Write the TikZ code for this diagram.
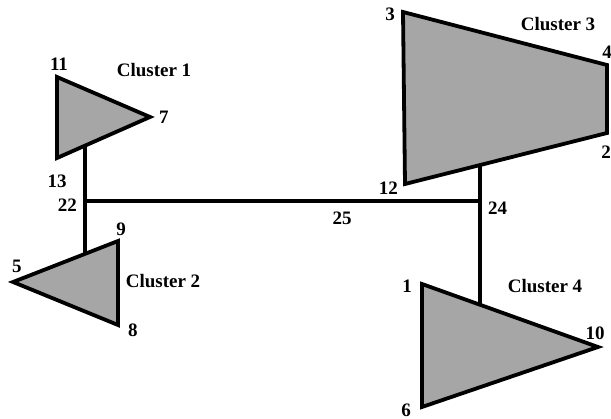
\documentclass[tikz,border=0pt]{standalone}
\usepackage{fontspec}
\setmainfont{Liberation Serif}
\usepackage{tikz}
\usetikzlibrary{positioning, calc}

\begin{document}
\begin{tikzpicture}[x=1pt, y=-1pt,
        cluster/.style={draw=black, fill=black!35, line width=3.8pt, line join=miter},
        link/.style={draw=black, line width=3.8pt},
        lbl/.style={inner sep=0pt, font=\fontsize{19}{21}\selectfont\bfseries},
    ]
    \useasboundingbox (0,0) rectangle (611,419);

    % cluster vertices
    \coordinate (c11) at (57,77);
    \coordinate (c7) at (150,117);
    \coordinate (c13) at (57,158);
    \coordinate (c5) at (13,282);
    \coordinate (c9) at (118,241);
    \coordinate (c8) at (118,325);
    \coordinate (c3) at (403,12);
    \coordinate (c4) at (607,65);
    \coordinate (c2) at (607,133);
    \coordinate (c12) at (405,184);
    \coordinate (c1) at (422,284);
    \coordinate (c10) at (598,347);
    \coordinate (c6) at (422,407);

    % junctions
    \coordinate (j22) at (85,201);
    \coordinate (j25) at (340,201);
    \coordinate (j24) at (480,201);
    \coordinate (t1) at ($(c13)!0.301!(c7)$);
    \coordinate (t2) at ($(c5)!0.686!(c9)$);
    \coordinate (t3) at ($(c12)!0.371!(c2)$);
    \coordinate (t4) at ($(c1)!0.33!(c10)$);

    \draw [cluster] (c11) -- (c7) -- (c13) -- cycle;
    \draw [cluster] (c5) -- (c9) -- (c8) -- cycle;
    \draw [cluster] (c3) -- (c4) -- (c2) -- (c12) -- cycle;
    \draw [cluster] (c1) -- (c10) -- (c6) -- cycle;

    \draw [link] (t1) -- (j22) -- (t2);
    \draw [link] (j22) -- (j25) -- (j24);
    \draw [link] (t3) -- (j24) -- (t4);

    % vertex labels
    \node [lbl, above=6pt of c11, xshift=2pt] (l11) {11};
    \node [lbl, right=9pt of c7] (l7) {7};
    \node [lbl, below=17pt of c13] (l13) {13};
    \node [lbl, left=8pt of j22, yshift=-4pt] (l22) {22};
    \node [lbl, above=5pt of c9, xshift=3pt] (l9) {9};
    \node [lbl, above=9pt of c5, xshift=4pt] (l5) {5};
    \node [lbl, right=10pt of c8, yshift=-5pt] (l8) {8};
    \node [lbl, left=8pt of c3, yshift=-2pt] (l3) {3};
    \node [lbl, above=6pt of c4] (l4) {4};
    \node [lbl, below=13pt of c2, xshift=-1pt] (l2) {2};
    \node [lbl, left=7pt of c12, yshift=-4pt] (l12) {12};
    \node [lbl, right=8pt of j24, yshift=-7pt] (l24) {24};
    \node [lbl, below=11pt of j25, xshift=2pt] (l25) {25};
    \node [lbl, left=10pt of c1, yshift=-2pt] (l1) {1};
    \node [lbl, above=7pt of c10, xshift=-3pt] (l10) {10};
    \node [lbl, left=11pt of c6, yshift=-3pt] (l6) {6};

    % cluster names
    \node [lbl] (n1) at (154,70) {Cluster 1};
    \node [lbl] (n2) at (163,281) {Cluster 2};
    \node [lbl] (n3) at (558,24) {Cluster 3};
    \node [lbl] (n4) at (545,286) {Cluster 4};
\end{tikzpicture}
\end{document}
